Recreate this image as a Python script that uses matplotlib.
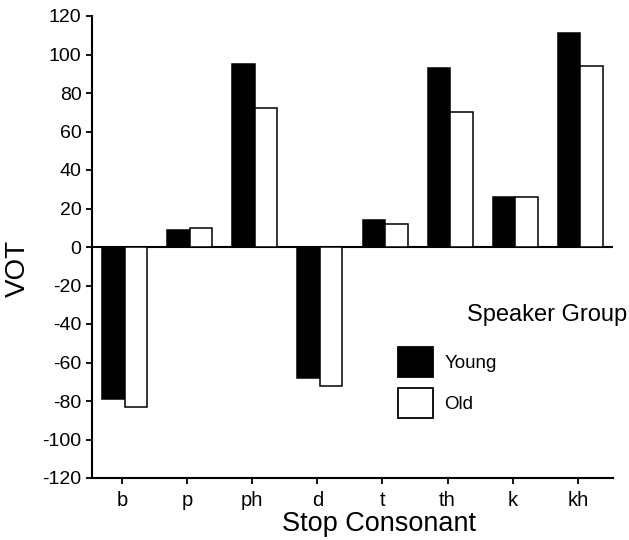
import numpy as np
import matplotlib
matplotlib.use("Agg")
import matplotlib.pyplot as plt
from matplotlib.patches import Patch

plt.rcParams['font.family'] = ['Liberation Sans', 'DejaVu Sans']
plt.rcParams['axes.unicode_minus'] = False

# VOT (ms) by stop consonant
consonants = ["b", "p", "ph", "d", "t", "th", "k", "kh"]
young = [-79, 9, 95, -68, 14, 93, 26, 111]
old = [-83, 10, 72, -72, 12, 70, 26, 94]
yticks = list(range(-120, 121, 20))

W, H = 629, 540
fig = plt.figure(figsize=(W / 100, H / 100), dpi=100)
ax = fig.add_axes([92 / W, 62 / H, 521 / W, 462 / H])

x = np.arange(len(consonants))
bw = 0.345
shift = 0.04
ax.bar(x + shift - bw / 2, young, bw, color="black", edgecolor="black", linewidth=1.1)
ax.bar(x + shift + bw / 2, old, bw, color="white", edgecolor="black", linewidth=1.1)
ax.axhline(0, color="black", lw=1.5, zorder=0.5)

ax.set_xlim(-0.46, 7.54)
ax.set_ylim(-120, 120)
ax.set_yticks(yticks)
ax.set_xticks(x)
ax.set_xticklabels(consonants)

for s in ("top", "right"):
    ax.spines[s].set_visible(False)
for s in ("left", "bottom"):
    ax.spines[s].set_linewidth(1.5)
ax.tick_params(axis="both", direction="out", length=4.5, width=1.3, labelsize=14)
ax.tick_params(axis="y", pad=3)
ax.tick_params(axis="x", pad=5, labelsize=14.5)

ax.set_xlabel("Stop Consonant", fontsize=19.5)
ax.xaxis.set_label_coords((379.5 - 92) / 521, -0.072)
fig.text(18 / W, 1 - 268 / H, "VOT", fontsize=20, rotation=90, ha="center", va="center")

fig.text(467 / W, 1 - 315 / H, "Speaker Group", fontsize=17, va="center")
handles = [Patch(facecolor="black", edgecolor="black", linewidth=1.3, label="Young"),
           Patch(facecolor="white", edgecolor="black", linewidth=1.3, label="Old")]
fig.legend(handles=handles, loc="upper left", bbox_to_anchor=(398 / W, 1 - 347 / H),
           frameon=False, fontsize=13.5, borderpad=0, borderaxespad=0,
           handlelength=1.87, handleheight=2.1, handletextpad=0.6, labelspacing=0.58)

fig.savefig("out.png", dpi=100)
